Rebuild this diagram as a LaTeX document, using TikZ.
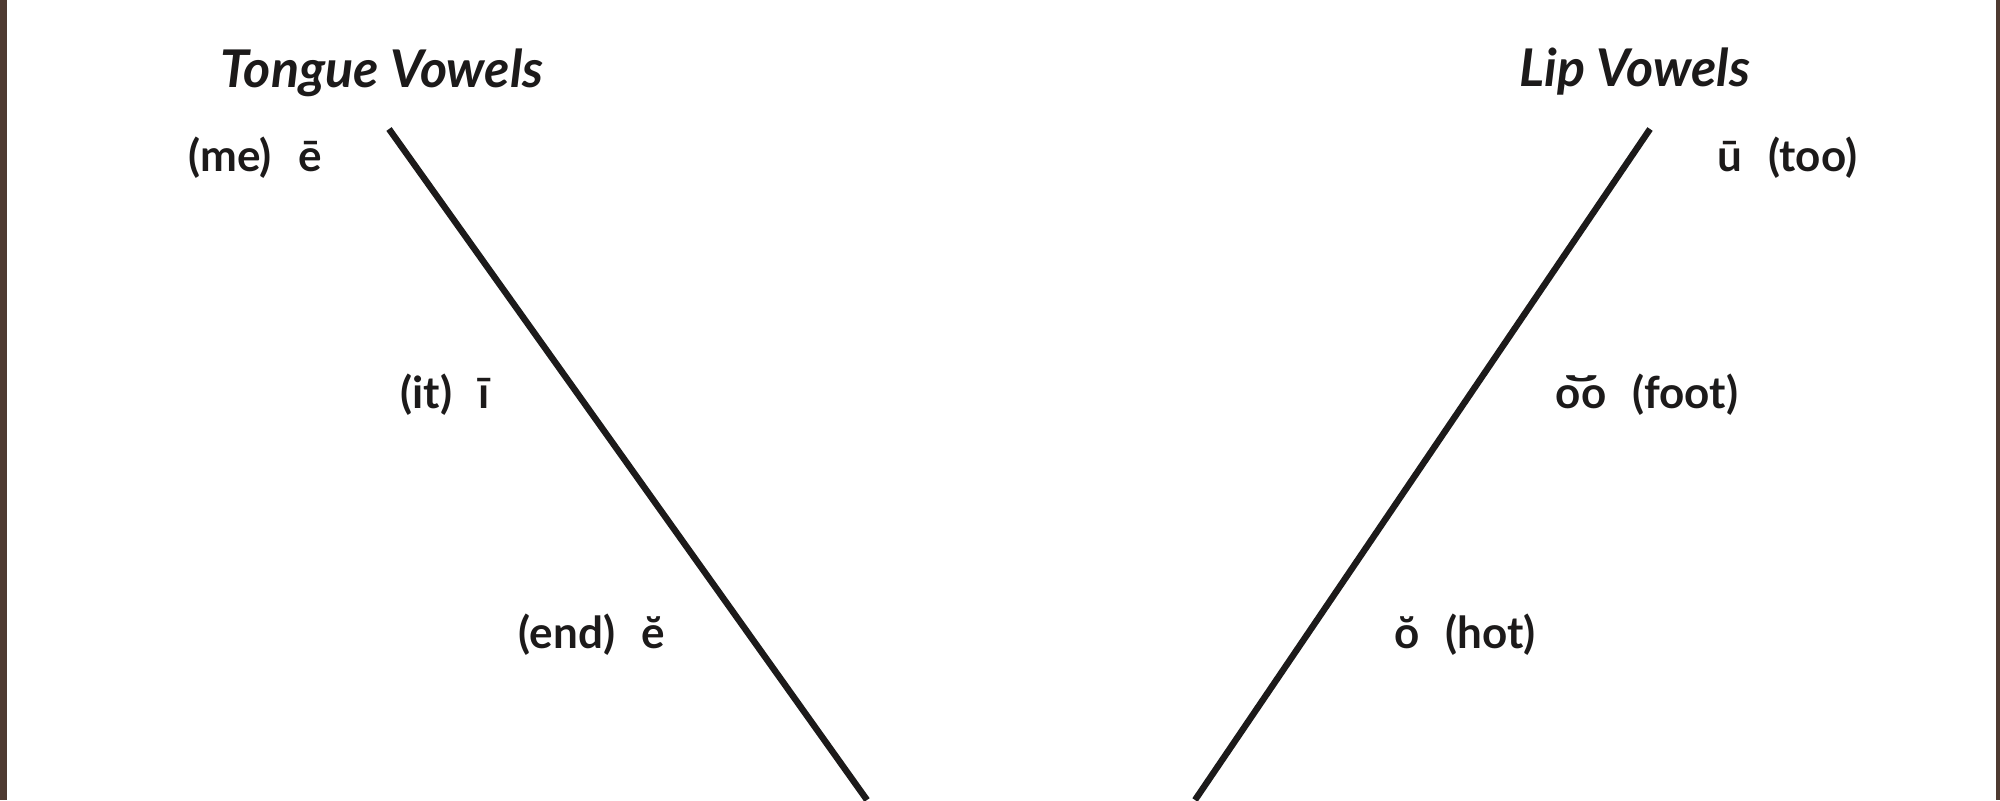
\documentclass[tikz,border=0pt]{standalone}
\usepackage{fontspec}
\setmainfont{Lato}
\definecolor{edge}{HTML}{4E3A31}
\definecolor{ink}{HTML}{1C1A1A}
\newcommand\twobreve[1]{\ooalign{#1\cr\hidewidth\raisebox{0.02em}{\scalebox{2.3}[1]{˘}}\hidewidth\cr}}
\begin{document}
\begin{tikzpicture}[x=0.5pt,y=-0.5pt,
  title/.style={font=\fontsize{26}{30}\selectfont\bfseries\itshape,text=ink,anchor=base,inner sep=0pt},
  vlabel/.style={font=\fontsize{22}{25}\selectfont\bfseries,text=ink,anchor=base,inner sep=0pt},
  arm/.style={draw=ink,line width=3.2pt}]
\useasboundingbox (0,0) rectangle (2000,800);
\fill[white] (0,0) rectangle (2000,800);
\fill[edge] (0,0) rectangle (7,800);
\fill[edge] (1996,0) rectangle (2000,800);
% titles
\node[title] (tongue) at (382,87) {Tongue Vowels};
\node[title] (lip) at (1635,86) {Lip Vowels};
% left labels
\node[vlabel] (me) at (255,171) {(me)\hspace{0.6em}ē};
\node[vlabel] (it) at (445,408) {(it)\hspace{0.6em}ī};
\node[vlabel] (end) at (592,648) {(end)\hspace{0.6em}ĕ};
% right labels
\node[vlabel] (too) at (1787,171) {ū\hspace{0.6em}(too)};
\node[vlabel] (foot) at (1647,408) {\twobreve{oo}\hspace{0.6em}(foot)};
\node[vlabel] (hot) at (1465,648) {ŏ\hspace{0.6em}(hot)};
% arms
\coordinate (ltop) at (389,129);
\coordinate (lbot) at (867,800);
\coordinate (rtop) at (1650,129);
\coordinate (rbot) at (1195,800);
\draw[arm] (ltop) -- (lbot);
\draw[arm] (rtop) -- (rbot);
\end{tikzpicture}
\end{document}
